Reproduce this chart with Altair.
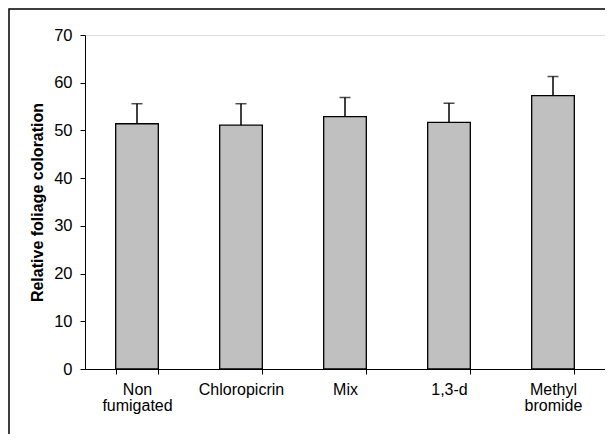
import altair as alt
import pandas as pd

categories = ["Non fumigated", "Chloropicrin", "Mix", "1,3-d", "Methyl bromide"]
means = [51.4, 51.1, 52.9, 51.7, 57.3]
upper = [55.6, 55.6, 56.9, 55.7, 61.3]
y_ticks = [0, 10, 20, 30, 40, 50, 60, 70]

df = pd.DataFrame({"cat": categories, "mean": means, "upper": upper})
FONT = "Liberation Sans"
TITLE = "Relative foliage coloration"

x = alt.X(
    "cat:N", sort=categories, title=None,
    scale=alt.Scale(paddingInner=0.59, paddingOuter=0.295),
    axis=alt.Axis(
        labelAngle=0, tickBand="extent",
        labelExpr="split(datum.label, ' ')",
        labelBaseline="top", labelLineHeight=16.5,
        tickSize=5, labelPadding=7,
        domainColor="black", tickColor="black", labelColor="black",
        labelFontSize=16, labelFont=FONT,
    ),
)

y_axis = alt.Axis(
    values=y_ticks, grid=False, tickSize=5, labelPadding=8,
    domainColor="black", tickColor="black", labelColor="black",
    labelFontSize=16.5, labelFont=FONT,
    titleFontSize=16, titleFont=FONT, titleFontWeight="bold",
    titleColor="black", titlePadding=8,
)
yscale = alt.Scale(domain=[0, 70], nice=False)

base = alt.Chart(df)

bars = base.mark_bar(color="#C0C0C0", stroke="black", strokeWidth=1.3).encode(
    x=x, y=alt.Y("mean:Q", title=TITLE, scale=yscale, axis=y_axis)
)
err = base.mark_rule(color="black", strokeWidth=1.5).encode(
    x=x, y=alt.Y("mean:Q", title=TITLE, scale=yscale, axis=y_axis), y2="upper:Q"
)
caps = base.mark_tick(color="black", size=11, thickness=1.5).encode(
    x=x, y=alt.Y("upper:Q", title=TITLE, scale=yscale, axis=y_axis)
)

frame = alt.Chart(pd.DataFrame({"f": [0]})).mark_rect(
    filled=False, stroke="black", strokeWidth=1.5
).encode(
    x=alt.value(-76), x2=alt.value(560),
    y=alt.value(-26), y2=alt.value(420),
)

chart = alt.layer(frame, bars, err, caps).properties(
    width=520, height=334,
    autosize=alt.AutoSizeParams(type="none"),
    padding={"left": 77, "top": 27, "right": 0, "bottom": 65},
).configure_view(stroke="#808080", strokeWidth=1.5).configure(background="white")

chart.save("out.html", embed_options={"renderer": "svg", "actions": False})
